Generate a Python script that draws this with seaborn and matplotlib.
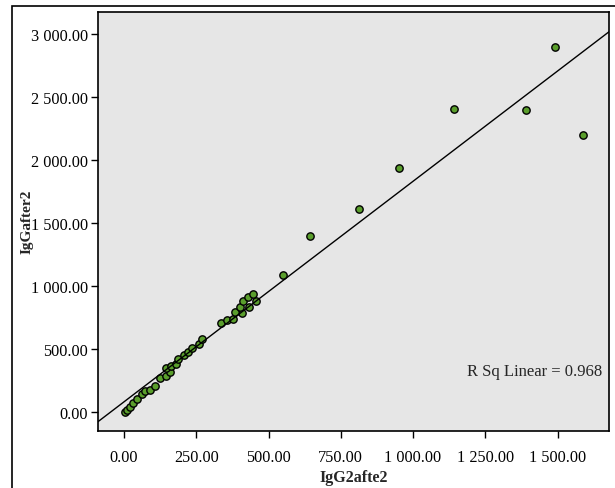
import numpy as np
import pandas as pd
import matplotlib
matplotlib.use("Agg")
import matplotlib.pyplot as plt
from matplotlib.ticker import FuncFormatter, MultipleLocator
from matplotlib.patches import Rectangle
import seaborn as sns

# values
igg2_after2 = [2, 9, 22, 32, 46, 62, 74, 90, 106, 125, 144, 160, 144, 163, 181,
               188, 206, 220, 236, 258, 269, 337, 357, 378, 408, 384, 434, 400,
               457, 413, 429, 446, 551,
               645, 814, 953, 1142, 1390, 1490, 1589]
igg_after2 = [-2, 19, 43, 69, 103, 140, 170, 175, 204, 270, 289, 320, 347, 363, 381,
              421, 452, 474, 511, 537, 577, 709, 730, 736, 783, 797, 831, 836,
              884, 878, 913, 941, 1085,
              1394, 1614, 1940, 2410, 2402, 2900, 2196]

df = pd.DataFrame({"IgG2afte2": igg2_after2, "IgGafter2": igg_after2})

sns.set_style("white")
plt.rcParams['font.family'] = ['Liberation Serif', 'DejaVu Serif']

fig = plt.figure(figsize=(6.15, 4.89), dpi=100)
ax = fig.add_axes([98 / 615, 1 - 432 / 489, (609 - 98) / 615, (432 - 12.5) / 489])
ax.set_facecolor("#e6e6e6")
ax.set_xlim(-90, 1678)
ax.set_ylim(-150, 3180)

sns.regplot(data=df, x="IgG2afte2", y="IgGafter2", ax=ax, ci=None, truncate=False,
            scatter_kws=dict(s=28, color="#5a9e2c", edgecolor="black", linewidths=1, alpha=1),
            line_kws=dict(color="black", lw=1))

r2 = np.corrcoef(igg2_after2, igg_after2)[0, 1] ** 2
print("R2 from estimates:", round(r2, 3))

fmt = FuncFormatter(lambda v, p: f"{v:,.2f}".replace(",", " "))
ax.xaxis.set_major_locator(MultipleLocator(250))
ax.yaxis.set_major_locator(MultipleLocator(500))
ax.xaxis.set_major_formatter(fmt)
ax.yaxis.set_major_formatter(fmt)
ax.tick_params(axis="both", direction="out", length=5, width=1, color="black",
               labelsize=11.7, labelcolor="black", bottom=True, left=True, pad=2)
ax.tick_params(axis="x", pad=8)
for s in ax.spines.values():
    s.set_color("black")
    s.set_linewidth(1.2)

ax.set_xlabel("IgG2afte2", fontsize=11.5, fontweight="bold", labelpad=3)
ax.set_ylabel("IgGafter2", fontsize=11, fontweight="bold", labelpad=-2)

ax.text(0.986, 0.143, "R Sq Linear = 0.968", transform=ax.transAxes,
        ha="right", va="center", fontsize=12)

# outer frame around the chart
fig.patches.append(Rectangle((12 / 615, -0.1), 2, 1.1 - 7 / 489,
                             transform=fig.transFigure, fill=False,
                             edgecolor="black", lw=1.2))

fig.savefig("out.png", dpi=100)
